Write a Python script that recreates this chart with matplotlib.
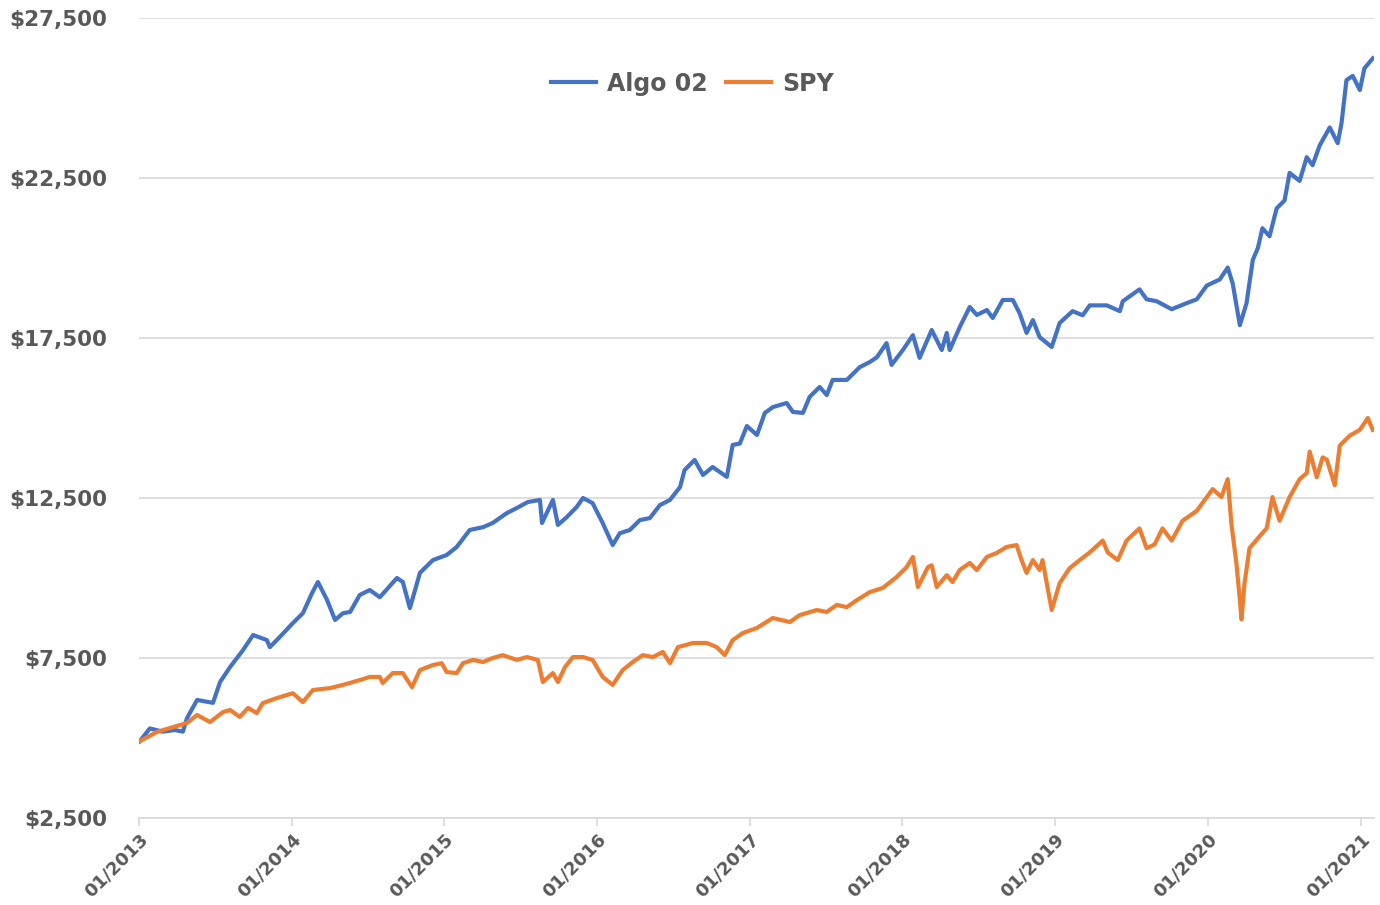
import pandas as pd
import matplotlib
matplotlib.use("Agg")
import matplotlib.pyplot as plt
import matplotlib.dates as mdates
from matplotlib.ticker import FuncFormatter

# values
algo_dates = [
    "2013-01-03", "2013-01-27", "2013-02-27", "2013-03-28", "2013-04-16", "2013-04-26",
    "2013-05-20", "2013-06-27", "2013-07-14", "2013-08-07", "2013-09-07", "2013-10-01",
    "2013-11-03", "2013-11-10", "2013-12-04", "2014-01-04", "2014-01-28", "2014-02-19",
    "2014-03-05", "2014-03-27", "2014-04-15", "2014-05-04", "2014-05-21", "2014-06-13",
    "2014-07-07", "2014-07-31", "2014-09-10", "2014-09-24", "2014-10-11", "2014-11-04",
    "2014-12-05", "2015-01-07", "2015-01-31", "2015-03-03", "2015-04-04", "2015-04-27",
    "2015-05-31", "2015-06-24", "2015-07-20", "2015-08-18", "2015-08-23", "2015-09-18",
    "2015-09-30", "2015-10-21", "2015-11-14", "2015-11-29", "2015-12-22", "2016-01-15",
    "2016-02-08", "2016-02-25", "2016-03-20", "2016-04-13", "2016-05-07", "2016-05-31",
    "2016-06-24", "2016-07-18", "2016-07-29", "2016-08-22", "2016-09-11", "2016-10-04",
    "2016-11-07", "2016-11-21", "2016-12-08", "2016-12-25", "2017-01-18", "2017-02-06",
    "2017-02-25", "2017-03-30", "2017-04-14", "2017-05-08", "2017-05-24", "2017-06-17",
    "2017-07-04", "2017-07-18", "2017-08-21", "2017-09-21", "2017-10-15", "2017-11-01",
    "2017-11-24", "2017-12-06", "2018-01-02", "2018-01-26", "2018-02-11", "2018-03-12",
    "2018-04-05", "2018-04-17", "2018-04-24", "2018-05-18", "2018-06-11", "2018-06-28",
    "2018-07-22", "2018-08-05", "2018-08-29", "2018-09-22", "2018-10-08", "2018-10-25",
    "2018-11-09", "2018-11-25", "2018-12-24", "2019-01-12", "2019-02-12", "2019-03-08",
    "2019-03-25", "2019-05-05", "2019-06-05", "2019-06-12", "2019-07-22", "2019-08-08",
    "2019-09-01", "2019-10-07", "2019-11-12", "2019-12-06", "2019-12-30", "2020-01-30",
    "2020-02-18", "2020-03-01", "2020-03-18", "2020-04-03", "2020-04-18", "2020-04-30",
    "2020-05-11", "2020-05-28", "2020-06-14", "2020-07-03", "2020-07-15", "2020-08-08",
    "2020-08-25", "2020-09-08", "2020-09-25", "2020-10-19", "2020-11-07", "2020-11-16",
    "2020-11-28", "2020-12-13", "2020-12-30", "2021-01-10", "2021-01-30",
]
algo_values = [
    4900, 5300, 5200, 5250, 5200, 5625,
    6190, 6100, 6750, 7220, 7750, 8220,
    8060, 7840, 8160, 8590, 8900, 9530,
    9875, 9310, 8690, 8900, 8940, 9470,
    9625, 9400, 10000, 9875, 9060, 10160,
    10560, 10720, 10970, 11500, 11590, 11720,
    12030, 12190, 12375, 12440, 11720, 12440,
    11660, 11900, 12220, 12500, 12340, 11720,
    11030, 11400, 11500, 11810, 11875, 12280,
    12440, 12840, 13375, 13690, 13220, 13470,
    13160, 14160, 14200, 14750, 14470, 15160,
    15340, 15470, 15190, 15160, 15660, 15970,
    15720, 16190, 16190, 16590, 16750, 16900,
    17340, 16660, 17125, 17590, 16880, 17750,
    17125, 17660, 17125, 17840, 18470, 18220,
    18375, 18125, 18690, 18690, 18280, 17660,
    18060, 17530, 17220, 17970, 18340, 18210,
    18520, 18520, 18340, 18650, 19020, 18710,
    18650, 18400, 18590, 18710, 19140, 19330,
    19700, 19200, 17900, 18590, 19940, 20310,
    20930, 20680, 21550, 21800, 22660, 22410,
    23150, 22900, 23520, 24080, 23590, 24200,
    25560, 25690, 25250, 25930, 26240,
]

spy_dates = [
    "2013-01-03", "2013-02-13", "2013-03-23", "2013-04-26", "2013-05-20", "2013-06-20",
    "2013-07-21", "2013-08-07", "2013-08-30", "2013-09-19", "2013-10-10", "2013-10-24",
    "2013-11-27", "2014-01-04", "2014-01-28", "2014-02-21", "2014-04-03", "2014-05-04",
    "2014-06-13", "2014-07-07", "2014-07-31", "2014-08-07", "2014-08-31", "2014-09-24",
    "2014-10-16", "2014-11-04", "2014-12-05", "2014-12-26", "2015-01-07", "2015-01-31",
    "2015-02-15", "2015-03-11", "2015-04-04", "2015-04-27", "2015-05-21", "2015-06-24",
    "2015-07-18", "2015-08-13", "2015-08-25", "2015-09-18", "2015-09-30", "2015-10-17",
    "2015-11-05", "2015-11-29", "2015-12-22", "2016-01-15", "2016-02-08", "2016-03-03",
    "2016-03-27", "2016-04-20", "2016-05-14", "2016-06-07", "2016-06-24", "2016-07-13",
    "2016-08-18", "2016-09-20", "2016-10-14", "2016-11-02", "2016-11-21", "2016-12-15",
    "2017-01-18", "2017-02-25", "2017-04-07", "2017-04-30", "2017-06-10", "2017-07-04",
    "2017-07-28", "2017-08-21", "2017-09-14", "2017-10-15", "2017-11-15", "2017-12-18",
    "2018-01-11", "2018-01-26", "2018-02-07", "2018-03-03", "2018-03-12", "2018-03-24",
    "2018-04-17", "2018-05-01", "2018-05-18", "2018-06-11", "2018-06-28", "2018-07-22",
    "2018-08-14", "2018-09-07", "2018-10-01", "2018-10-13", "2018-10-25", "2018-11-09",
    "2018-11-25", "2018-12-02", "2018-12-24", "2019-01-12", "2019-02-05", "2019-03-01",
    "2019-03-25", "2019-04-25", "2019-05-07", "2019-05-31", "2019-06-21", "2019-07-22",
    "2019-08-08", "2019-08-27", "2019-09-15", "2019-10-07", "2019-11-02", "2019-12-06",
    "2019-12-30", "2020-01-13", "2020-02-03", "2020-02-18", "2020-02-27", "2020-03-10",
    "2020-03-18", "2020-03-22", "2020-03-29", "2020-04-10", "2020-05-04", "2020-05-21",
    "2020-06-04", "2020-06-21", "2020-07-15", "2020-08-08", "2020-08-25", "2020-09-01",
    "2020-09-18", "2020-10-02", "2020-10-12", "2020-10-31", "2020-11-12", "2020-12-06",
    "2020-12-30", "2021-01-18", "2021-01-30",
]
spy_values = [
    4900, 5190, 5340, 5470, 5720, 5500,
    5810, 5875, 5660, 5940, 5780, 6090,
    6250, 6400, 6125, 6500, 6560, 6660,
    6810, 6910, 6910, 6720, 7030, 7030,
    6590, 7125, 7280, 7340, 7060, 7030,
    7340, 7440, 7375, 7500, 7590, 7440,
    7530, 7440, 6750, 7030, 6750, 7220,
    7530, 7530, 7440, 6910, 6660, 7125,
    7375, 7590, 7530, 7690, 7340, 7840,
    7970, 7970, 7840, 7590, 8060, 8280,
    8440, 8750, 8625, 8840, 9000, 8940,
    9160, 9090, 9310, 9560, 9690, 10030,
    10340, 10660, 9720, 10340, 10400, 9720,
    10090, 9875, 10250, 10470, 10250, 10660,
    10780, 10970, 11030, 10560, 10160, 10560,
    10250, 10560, 9000, 9840, 10310, 10560,
    10800, 11170, 10800, 10560, 11170, 11550,
    10930, 11050, 11550, 11170, 11790, 12100,
    12530, 12780, 12530, 13090, 11670, 10430,
    9320, 8710, 9820, 10930, 11300, 11550,
    12530, 11790, 12530, 13090, 13280, 13950,
    13150, 13770, 13700, 12900, 14140, 14450,
    14630, 15000, 14630,
]

y_ticks = [2500, 7500, 12500, 17500, 22500, 27500]
series_names = ["Algo 02", "SPY"]

text_color = "#595959"
grid_color = "#D9D9D9"

fig = plt.figure(figsize=(13.8, 9.05), dpi=100)
ax = fig.add_axes([0.1007, 0.0961, 0.8953, 0.8840])

ax.plot(pd.to_datetime(algo_dates), algo_values, color="#4472C4", lw=3.0,
        label=series_names[0], solid_joinstyle="round")
ax.plot(pd.to_datetime(spy_dates), spy_values, color="#ED7D31", lw=3.0,
        label=series_names[1], solid_joinstyle="round")

ax.set_ylim(y_ticks[0], y_ticks[-1])
ax.set_yticks(y_ticks)
ax.yaxis.set_major_formatter(FuncFormatter(lambda v, p: f"${v:,.0f}"))
ax.set_xlim(pd.Timestamp("2013-01-01"), pd.Timestamp("2021-02-03"))
ax.xaxis.set_major_locator(mdates.YearLocator())
ax.xaxis.set_major_formatter(mdates.DateFormatter("%m/%Y"))

ax.grid(axis="y", color=grid_color, lw=1.2)
ax.set_axisbelow(True)
for side in ["top", "right", "left"]:
    ax.spines[side].set_visible(False)
ax.spines["bottom"].set_color(grid_color)
ax.spines["bottom"].set_linewidth(1.2)

ax.tick_params(axis="y", length=0, pad=23, labelsize=15.5, labelcolor=text_color)
ax.tick_params(axis="x", length=6, width=1.2, color=grid_color, pad=3,
               labelsize=13, labelcolor=text_color)
for lbl in ax.get_yticklabels():
    lbl.set_fontweight("bold")
for lbl in ax.get_xticklabels():
    lbl.set_fontweight("bold")
    lbl.set_rotation(45)
    lbl.set_ha("right")
    lbl.set_rotation_mode("anchor")

leg = ax.legend(loc="center", bbox_to_anchor=(0.448, 0.918), ncol=2, frameon=False,
                handlelength=1.9, handletextpad=0.45, columnspacing=0.8,
                prop={"size": 17, "weight": "bold"})
for t in leg.get_texts():
    t.set_color(text_color)

fig.savefig("out.png", dpi=100)
